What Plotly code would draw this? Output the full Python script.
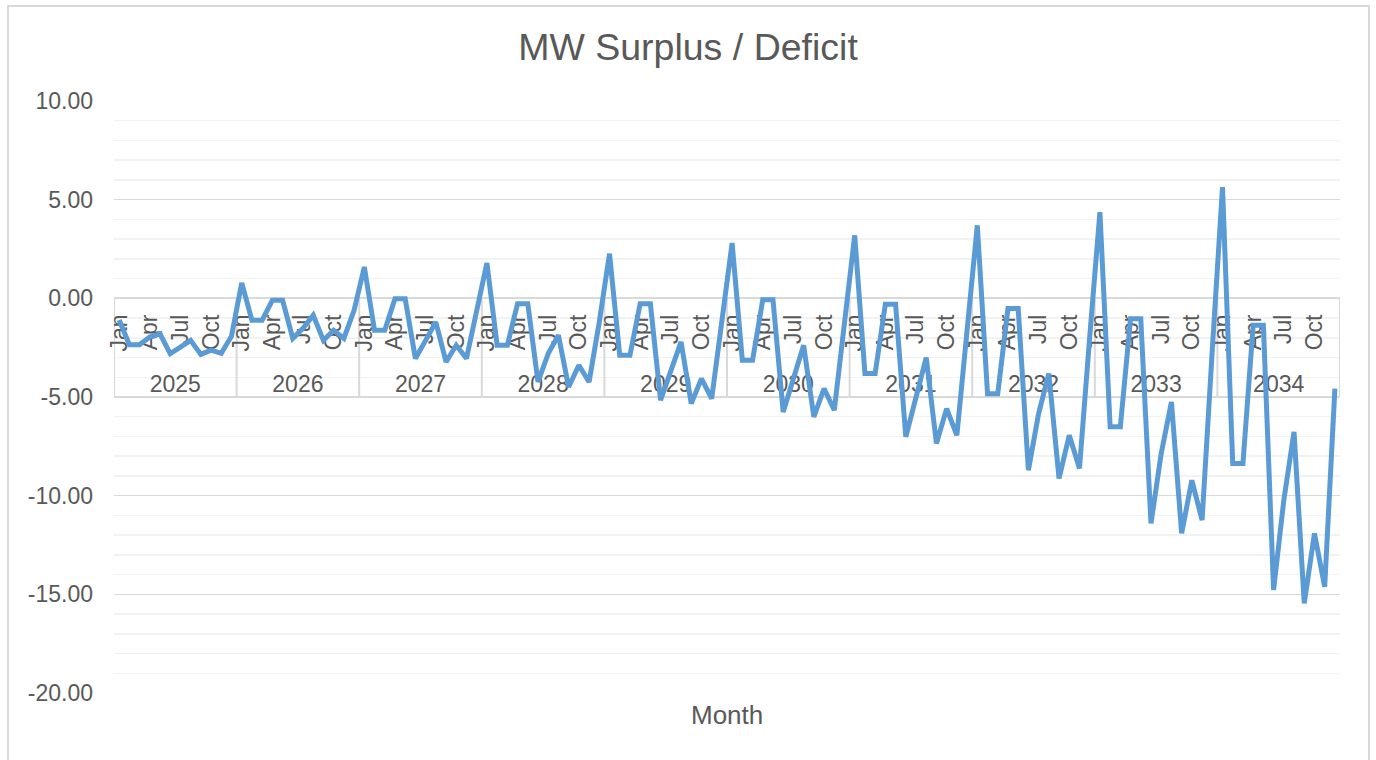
import plotly.graph_objects as go

years = ["2025", "2026", "2027", "2028", "2029", "2030", "2031", "2032", "2033", "2034"]
months = ["Jan", "Feb", "Mar", "Apr", "May", "Jun", "Jul", "Aug", "Sep", "Oct", "Nov", "Dec"]
shown_months = ["Jan", "Apr", "Jul", "Oct"]

v2025 = [-1.1, -2.35, -2.35, -1.96, -1.8, -2.8, -2.47, -2.13, -2.84, -2.63, -2.79, -1.92]
v2026 = [0.78, -1.11, -1.11, -0.1, -0.1, -2.03, -1.52, -0.86, -2.13, -1.62, -2.03, -0.61]
v2027 = [1.59, -1.62, -1.62, -0.02, -0.02, -3.05, -2.13, -1.2, -3.22, -2.38, -3.05, -0.6]
v2028 = [1.79, -2.38, -2.38, -0.27, -0.27, -4.24, -2.8, -1.87, -4.49, -3.39, -4.24, -1.2]
v2029 = [2.26, -2.89, -2.89, -0.27, -0.27, -5.16, -3.65, -2.21, -5.33, -4.07, -5.08, -1.1]
v2030 = [2.8, -3.14, -3.14, -0.07, -0.07, -5.76, -4.15, -2.38, -6.01, -4.57, -5.67, -1.1]
v2031 = [3.19, -3.81, -3.81, -0.3, -0.3, -7.02, -5.0, -3.0, -7.36, -5.59, -6.94, -1.6]
v2032 = [3.7, -4.83, -4.83, -0.52, -0.52, -8.71, -5.84, -3.81, -9.13, -6.94, -8.62, -1.96]
v2033 = [4.37, -6.51, -6.51, -1.03, -1.03, -11.41, -7.86, -5.25, -11.91, -9.22, -11.24, -2.6]
v2034 = [5.64, -8.37, -8.37, -1.37, -1.37, -14.78, -10.23, -6.77, -15.46, -11.91, -14.62, -4.57]

y_ticks = [-20, -15, -10, -5, 0, 5, 10]
y_ticktext = ["%.2f" % t for t in y_ticks]

values = v2025 + v2026 + v2027 + v2028 + v2029 + v2030 + v2031 + v2032 + v2033 + v2034
n = len(values)
idx = list(range(n))
nm = len(months)

month_tickvals = [yi * nm + mi for yi in range(len(years)) for mi, m in enumerate(months) if m in shown_months]
month_ticktext = [months[v % nm] for v in month_tickvals]
year_centers = [yi * nm + (nm - 1) / 2 for yi in range(len(years))]
boundaries = [yi * nm - 0.5 for yi in range(len(years) + 1)]

FONT = "Liberation Sans, Arial, sans-serif"
TXT = "#595959"
GRID = "#D9D9D9"

ymin, ymax = -20, 10
zero_pos = (0 - ymin) / (ymax - ymin)

fig = go.Figure()
fig.add_trace(go.Scatter(x=idx, y=values, mode="lines",
                         line=dict(color="#5B9BD5", width=5),
                         xaxis="x", yaxis="y", showlegend=False))
fig.add_trace(go.Scatter(x=idx, y=values, mode="lines", line=dict(width=0), opacity=0,
                         xaxis="x2", yaxis="y", hoverinfo="skip", showlegend=False))

for b in boundaries:
    fig.add_shape(type="line", xref="x", yref="y", x0=b, x1=b, y0=0, y1=-5,
                  line=dict(color=GRID, width=2), layer="between")

L, R, T, B = 114, 36, 101, 67
W, H = 1376, 760
pw, ph = W - L - R, H - T - B

fig.add_shape(type="rect", xref="paper", yref="paper",
              x0=(8 - L) / pw, x1=(1369 - L) / pw,
              y0=(H - B - 790) / ph, y1=(H - B - 6) / ph,
              line=dict(color=GRID, width=2), layer="above")

fig.update_layout(
    width=W, height=H,
    margin=dict(l=L, r=R, t=T, b=B, autoexpand=False),
    paper_bgcolor="white", plot_bgcolor="white",
    font=dict(family=FONT, color=TXT),
    title=dict(text="MW Surplus / Deficit", x=0.5, xanchor="center",
               y=1 - 47 / H, yanchor="middle",
               font=dict(size=37.5, color=TXT, family=FONT)),
    xaxis=dict(range=[-0.5, n - 0.5], anchor="free", position=zero_pos,
               showline=True, linecolor=GRID, linewidth=2,
               showgrid=False, zeroline=False,
               tickmode="array", tickvals=month_tickvals, ticktext=month_ticktext,
               tickangle=-90, ticks="", ticklabelstandoff=6,
               tickfont=dict(size=23, color=TXT, family=FONT),
               layer="below traces", fixedrange=True),
    xaxis2=dict(range=[-0.5, n - 0.5], overlaying="x", anchor="free",
                position=(-3.55 - ymin) / (ymax - ymin),
                showline=False, showgrid=False, zeroline=False,
                tickmode="array", tickvals=year_centers, ticktext=years,
                ticks="", tickfont=dict(size=23, color=TXT, family=FONT),
                layer="below traces", fixedrange=True),
    yaxis=dict(range=[ymin, ymax], tickmode="array", tickvals=y_ticks, ticktext=y_ticktext,
               showgrid=True, gridcolor=GRID, gridwidth=1.5,
               zeroline=False, showline=False, ticks="",
               ticklabelstandoff=20,
               tickfont=dict(size=23, color=TXT, family=FONT),
               minor=dict(tickmode="linear", tick0=0, dtick=1, showgrid=True,
                          gridcolor="#F2F2F2", gridwidth=1.5),
               fixedrange=True),
    annotations=[dict(text="Month", xref="paper", yref="paper", x=0.5, y=(H - B - 715) / ph,
                      xanchor="center", yanchor="middle", showarrow=False,
                      font=dict(size=26, color=TXT, family=FONT))],
)

fig.write_html("out.html", config={"displayModeBar": False, "staticPlot": True},
               post_script="document.body.style.margin='0';document.body.style.overflow='hidden';")
